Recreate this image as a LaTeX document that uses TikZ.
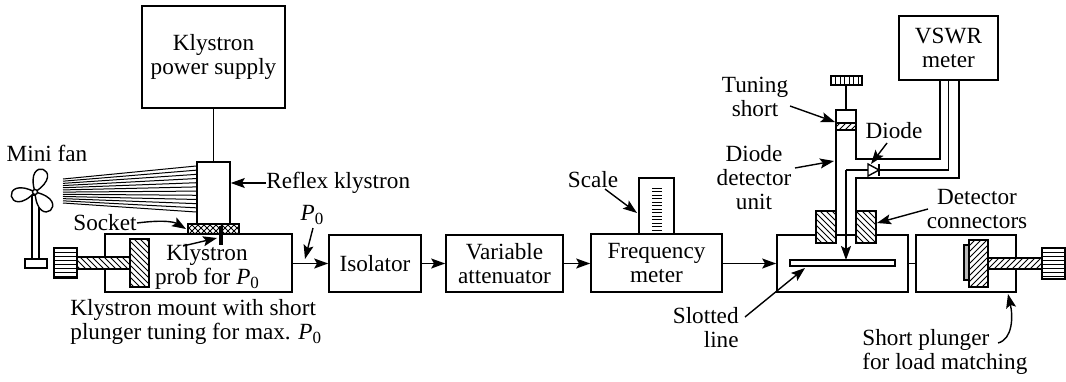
\documentclass[tikz,border=0pt]{standalone}
\usepackage{fontspec}
\setmainfont{LiberationSerif}[Extension=.ttf,UprightFont=*-Regular,ItalicFont=*-Italic,BoldFont=*-Bold,BoldItalicFont=*-BoldItalic]
\usetikzlibrary{arrows.meta,patterns}
\newcommand\Pzero{\textit{P}\raisebox{-0.35ex}{\fontsize{8.5}{8.5}\selectfont 0}}
\begin{document}
\begin{tikzpicture}[x=0.5pt,y=-0.5pt,
  font=\fontsize{11.6}{12}\selectfont,
  thin line/.style={line width=0.7pt},
  box/.style={draw,line width=0.8pt,rectangle,inner sep=0pt,align=center},
  arr/.style={line width=0.7pt,-{Stealth[length=7pt,width=5pt,inset=1.4pt]}},
  lbl/.style={inner sep=0pt,align=center},
  hatchL/.style={draw,line width=0.7pt,fill=white,postaction={pattern=north west lines}},
  hatchR/.style={draw,line width=0.7pt,fill=white,postaction={pattern=north east lines}},
]
\useasboundingbox (0,0) rectangle (1066,381);

% ---------- main boxes ----------
\node[box,minimum width=71.5pt,minimum height=51pt] (supply) at (213.5,57) {Klystron\\power supply};
\node[box,minimum width=16.5pt,minimum height=31.5pt] (reflex) at (213.5,193.5) {};
\node[box,minimum width=93.5pt,minimum height=29pt] (mount) at (198.5,263) {};
\node[box,minimum width=46pt,minimum height=28.5pt] (iso) at (375,263.5) {Isolator};
\node[box,minimum width=58.5pt,minimum height=28.5pt] (att) at (504.5,263.5) {Variable\\attenuator};
\node[box,minimum width=65.5pt,minimum height=29pt] (freq) at (656.5,263) {Frequency\\meter};
\node[box,minimum width=65.5pt,minimum height=28.5pt] (slot) at (842.5,263.5) {};
\node[box,minimum width=50pt,minimum height=28.5pt] (short) at (966,263.5) {};
\node[box,minimum width=49.5pt,minimum height=32pt] (vswr) at (948.5,48) {VSWR\\meter};

% ---------- chain connections ----------
\draw[thin line] (supply.south) -- (reflex.north);
\draw[arr] (mount.east |- iso.west) -- (iso.west);
\draw[arr] (iso.east) -- (att.west);
\draw[arr] (att.east) -- (freq.west |- att.east);
\draw[arr] (freq.east |- slot.west) -- (slot.west);
\draw[thin line] (slot.east) -- (short.west);

% ---------- mini fan ----------
\draw[thin line,fill=white] (32,195) rectangle (39,259);
\draw[thin line,fill=white] (25,259) rectangle (47,268);
\foreach \a in {70,190,310}{
  \begin{scope}[shift={(35,192)},rotate=\a]
    \draw[thin line,fill=white] (0,0) .. controls (32,-24) and (32,24) .. (0,0);
  \end{scope}}
\draw[thin line,fill=white] (35,192) circle (2.5);
\node[lbl] (fanlbl) at (47,153) {Mini fan};
\foreach \i in {0,...,11}
  \draw[line width=0.5pt] (63,{179+\i*24/11}) -- (reflex.west |- 0,{166+\i*46/11});

% ---------- klystron mount ----------
\draw[thin line,fill=white] (54,248) rectangle (77,278);
\foreach \y in {252,256,...,276} \draw[line width=0.5pt] (54,\y) -- (77,\y);
\draw[hatchL] (77,257) rectangle (130,269);
\draw[hatchL] (130,239) rectangle (149,287);
\draw[thin line,fill=white,postaction={pattern=north east lines},postaction={pattern=north west lines}] (188,224) rectangle (239,234);
\draw[line width=2pt] (221,226) -- (221,245);
\node[lbl] (probe) at (207,267) {Klystron\\prob for \Pzero};
\node[lbl] (socketlbl) at (105,223) {Socket};
\draw[arr] (socketlbl.east) .. controls (168,219) and (176,223) .. (186,229);
\draw[arr] (183,246) -- (217,238);
\node[lbl,anchor=west] (reflexlbl) at (266,183) {Reflex klystron};
\draw[arr] (reflexlbl.west) -- (reflexlbl.west -| reflex.east);
\node[lbl] (p0) at (312,215) {\Pzero};
\coordinate (p0tip) at (305,259);
\draw[arr] (313,228) -- (p0tip);
\node[lbl,anchor=west,align=left] (mountlbl) at (70,322) {Klystron mount with short\\plunger tuning for max. \Pzero};

% ---------- frequency meter scale ----------
\draw[thin line] (639,234) -- (639,178) -- (674,178) -- (674,234);
\foreach \i in {0,...,12} \draw[line width=0.5pt] (652,{188+\i*3.5}) -- (662,{188+\i*3.5});
\node[lbl] (scalelbl) at (593,180) {Scale};
\draw[arr] (605,189) -- (637,213);

% ---------- slotted line and detector ----------
\draw[thin line] (790,260) rectangle (895,266);
\draw[thin line] (836,110) rectangle (856,130);
\draw[thin line,postaction={pattern=north east lines}] (836,123) rectangle (856,130);
\draw[thin line] (846,85) -- (846,110);
\draw[thin line,fill=white] (831,76) rectangle (862,85);
\foreach \x in {835.5,840,...,858} \draw[line width=0.5pt] (\x,76) -- (\x,85);
\draw[thin line] (836,130) -- (836,235);
\draw[thin line] (856,130) -- (856,159) -| ([xshift=-4.25pt]vswr.south);
\draw[thin line] ([xshift=5.25pt]vswr.south) |- (856,178) -- (856,235);
\draw[thin line] (846,170) -- (868,170);
\draw[thin line] (868,164) -- (868,176) -- (879,170) -- cycle;
\draw[thin line] (879,164) -- (879,176);
\draw[thin line] (879,170) -| (vswr.south);
\draw[arr] (846,170) -- (846,260);
\draw[hatchL] (816,211) rectangle (836,243);
\draw[hatchL] (856,211) rectangle (876,243);

\node[lbl] (tunelbl) at (755,97) {Tuning\\short};
\draw[arr] (790,106) -- (835,122);
\node[lbl] (diodelbl) at (894,131) {Diode};
\draw[arr] (887,143) -- (871,164);
\node[lbl] (unitlbl) at (754,178) {Diode\\detector\\unit};
\draw[arr] (795,168) -- (834,161);
\node[lbl] (connlbl) at (977,209) {Detector\\connectors};
\draw[arr] (928,209) -- (877,223);
\node[lbl,anchor=east,align=right] (slotlbl) at (739,328) {Slotted\\line};
\draw[arr] (745,317) -- (805,268);

% ---------- short plunger ----------
\draw[thin line,fill=gray!55] (964,245) rectangle (969,280);
\draw[hatchR] (969,240) rectangle (988,287);
\draw[hatchR] (988,258) rectangle (1042,269);
\draw[thin line,fill=white] (1042,248) rectangle (1065,279);
\foreach \y in {252,256,...,276} \draw[line width=0.5pt] (1042,\y) -- (1065,\y);
\node[lbl,anchor=west,align=left] (shortlbl) at (862,352) {Short plunger\\for load matching};
\draw[arr] (998,343) .. controls (1013,339) and (1013,316) .. (1008,294);
\end{tikzpicture}
\end{document}
